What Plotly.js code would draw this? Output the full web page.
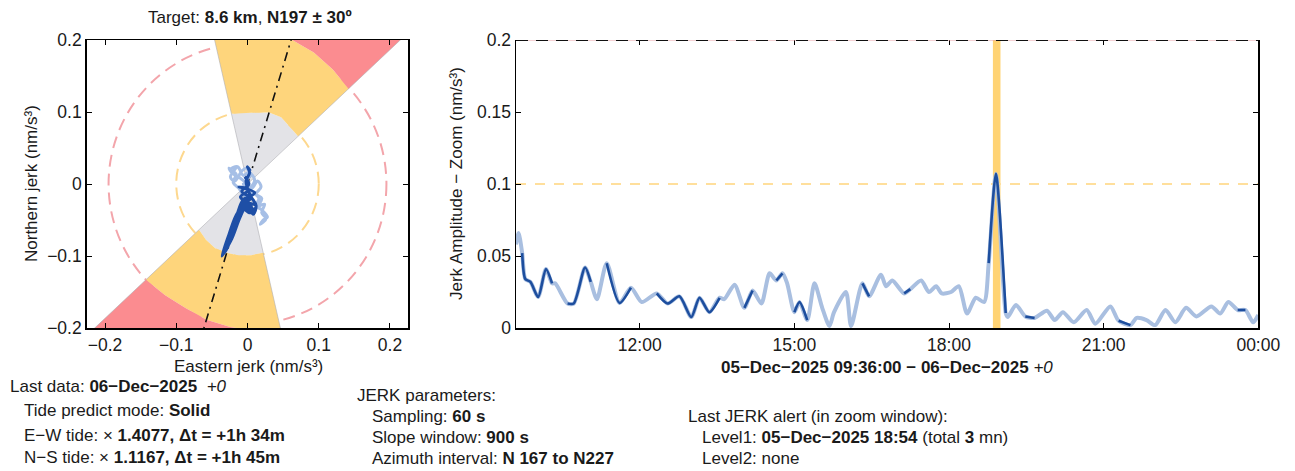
<!DOCTYPE html>
<html><head><meta charset="utf-8">
<script src="https://cdn.plot.ly/plotly-3.0.1.min.js"></script>
<style>html,body{margin:0;padding:0;background:#fff}#chart{width:1295px;height:471px}</style>
</head><body><div id="chart"></div>
<script>
// ---------------- data ----------------
const targetAzimuth = 197;
const wedgeAzimuthsUpper = [347, 357, 7, 17, 27, 37, 47];
const innerRadiusUpper   = [0.100, 0.099, 0.100, 0.104, 0.104, 0.099, 0.097];
const outerRadiusUpper   = [0.220, 0.220, 0.215, 0.210, 0.205, 0.199, 0.194];
const wedgeAzimuthsLower = [167, 177, 187, 197, 207, 217, 227];
const innerRadiusLower   = [0.098, 0.099, 0.100, 0.100, 0.100, 0.097, 0.093];
const outerRadiusLower   = [0.210, 0.205, 0.200, 0.197, 0.193, 0.193, 0.195];
const circleRadii = [0.1, 0.195];

const lightE = [0.000,-0.010,-0.020,-0.026,-0.022,-0.015,-0.024,-0.018,-0.008,-0.002,0.004,-0.004,0.006,0.014,0.019,0.012,0.020,0.016,0.024,0.020,0.026,0.018,0.022,0.028,0.020,0.012,0.016,0.006,-0.004,-0.012,-0.020,-0.016,-0.024,-0.014,-0.006,0.002,0.010,0.004,-0.006,0.000];
const lightN = [0.000,0.008,0.014,0.022,0.016,0.024,0.010,0.004,0.018,0.022,0.012,0.002,-0.006,0.004,-0.004,-0.014,-0.020,-0.030,-0.028,-0.040,-0.048,-0.056,-0.050,-0.046,-0.036,-0.030,-0.020,-0.012,-0.018,-0.006,0.002,0.014,0.020,0.024,0.012,0.016,0.006,-0.004,0.000,-0.010];
const darkE = [-0.004,0.002,-0.008,0.004,-0.006,0.008,0.000,-0.010,0.002,-0.012,0.010,-0.004,0.012,0.004,-0.008,0.006,-0.006,-0.016,-0.026,-0.033,-0.028,-0.018,-0.008,0.000,-0.012,-0.022,-0.032,-0.036,-0.026,-0.014,-0.002,0.008,0.012,0.004,-0.002,0.003,0.000,0.004];
const darkN = [0.010,0.000,-0.010,-0.020,-0.030,-0.036,-0.026,-0.018,-0.008,-0.004,-0.012,-0.024,-0.030,-0.040,-0.028,-0.016,-0.022,-0.046,-0.072,-0.096,-0.088,-0.060,-0.034,-0.022,-0.050,-0.076,-0.094,-0.100,-0.070,-0.040,-0.030,-0.042,-0.030,-0.016,0.004,0.016,0.024,0.018];

const timeHours = [9.60,9.65,9.72,9.78,9.88,10.03,10.18,10.30,10.36,10.60,10.72,10.94,11.05,11.17,11.36,11.61,11.83,12.04,12.33,12.54,12.77,13.00,13.16,13.35,13.55,13.64,13.84,14.03,14.19,14.36,14.52,14.65,14.77,14.86,15.00,15.10,15.25,15.39,15.54,15.68,15.77,16.00,16.10,16.32,16.45,16.68,16.78,16.90,17.13,17.25,17.46,17.61,17.75,17.86,18.04,18.19,18.35,18.52,18.68,18.77,18.91,19.10,19.14,19.30,19.48,19.66,19.90,20.05,20.21,20.42,20.67,20.84,21.13,21.29,21.52,21.64,21.83,22.00,22.20,22.39,22.60,22.80,23.09,23.26,23.42,23.60,23.75,23.90,24.00];
const jerkAmp = [0.058,0.066,0.052,0.034,0.032,0.0215,0.041,0.031,0.031,0.017,0.017,0.042,0.032,0.020,0.045,0.0174,0.028,0.018,0.024,0.017,0.022,0.0076,0.021,0.011,0.021,0.020,0.030,0.014,0.026,0.017,0.038,0.033,0.038,0.031,0.011,0.018,0.0055,0.031,0.014,0.0014,0.011,0.025,0.0014,0.031,0.022,0.037,0.029,0.033,0.024,0.027,0.033,0.025,0.029,0.024,0.025,0.029,0.010,0.021,0.018,0.045,0.107,0.0104,0.0076,0.016,0.008,0.007,0.012,0.0055,0.011,0.004,0.0125,0.003,0.015,0.005,0.002,0.007,0.0055,0.002,0.0125,0.004,0.014,0.008,0.015,0.010,0.018,0.0125,0.0125,0.004,0.009];
const inInterval = [0,0,1,1,1,1,1,1,0,1,1,1,1,0,1,1,1,0,1,1,1,1,1,1,1,0,0,1,1,0,0,1,1,0,1,1,1,0,0,0,0,0,0,1,1,0,0,0,1,1,0,0,0,0,0,0,0,0,0,1,1,1,0,0,1,1,0,1,0,1,0,1,0,1,1,0,0,1,0,1,0,0,1,0,0,1,1,0,0];

const alertLevels = [0.1, 0.2];
const alertStartHour = 18 + 54/60;
const alertDurationMin = 3;
const xTickHours = [12, 15, 18, 21, 24];
const xTickLabels = ['12:00','15:00','18:00','21:00','00:00'];
const windowStartHour = 9.6, windowEndHour = 24;
const polarTicks = [-0.2, -0.1, 0, 0.1, 0.2];
const ampTicks = [0, 0.05, 0.1, 0.15, 0.2];

// ---------------- helpers ----------------
const rad = d => d * Math.PI / 180;
const toDate = h => new Date(Date.UTC(2025, 11, 5) + Math.round(h * 3600000)).toISOString().slice(0, 19).replace('T', ' ');
function ring(az, rIn, rOut) {
  const x = [], y = [];
  az.forEach((a, i) => { const r = rIn[i]; x.push(r * Math.sin(rad(a))); y.push(r * Math.cos(rad(a))); });
  for (let i = az.length - 1; i >= 0; i--) { const r = rOut[i]; x.push(r * Math.sin(rad(az[i]))); y.push(r * Math.cos(rad(az[i]))); }
  return {x, y};
}
const FAR = az => az.map(() => 0.6);
const ZERO = az => az.map(() => 0);

const GRAY = '#e3e3e7', YEL = '#fed57c', RED = '#fb8c90';
const traces = [];
[[wedgeAzimuthsUpper, innerRadiusUpper, outerRadiusUpper], [wedgeAzimuthsLower, innerRadiusLower, outerRadiusLower]].forEach(([az, ri, ro]) => {
  [[ZERO(az), ri, GRAY], [ri, ro, YEL], [ro, FAR(az), RED]].forEach(([a, b, c]) => {
    const p = ring(az, a, b);
    traces.push({x: p.x, y: p.y, xaxis: 'x', yaxis: 'y', mode: 'lines', fill: 'toself', fillcolor: c, line: {width: 0}, hoverinfo: 'skip'});
  });
});
// wedge edges
[wedgeAzimuthsUpper[0], wedgeAzimuthsUpper[wedgeAzimuthsUpper.length - 1]].forEach(a => {
  traces.push({x: [-0.6 * Math.sin(rad(a)), 0.6 * Math.sin(rad(a))], y: [-0.6 * Math.cos(rad(a)), 0.6 * Math.cos(rad(a))], xaxis: 'x', yaxis: 'y', mode: 'lines', line: {color: 'rgba(175,175,180,0.6)', width: 1}, hoverinfo: 'skip'});
});
// target azimuth
traces.push({x: [-0.6 * Math.sin(rad(targetAzimuth)), 0.6 * Math.sin(rad(targetAzimuth))], y: [-0.6 * Math.cos(rad(targetAzimuth)), 0.6 * Math.cos(rad(targetAzimuth))], xaxis: 'x', yaxis: 'y', mode: 'lines', line: {color: '#111', width: 1.6, dash: '9px,5px,2px,5px'}, hoverinfo: 'skip'});
// trajectories
traces.push({x: lightE, y: lightN, xaxis: 'x', yaxis: 'y', mode: 'lines', line: {color: '#a6bfe6', width: 3, shape: 'spline'}});
traces.push({x: darkE, y: darkN, xaxis: 'x', yaxis: 'y', mode: 'lines', line: {color: '#1e4fa6', width: 3, shape: 'spline'}});

// time series
const tDates = timeHours.map(toDate);
traces.push({x: tDates, y: jerkAmp, xaxis: 'x2', yaxis: 'y2', mode: 'lines', line: {color: '#a9bfe0', width: 4, shape: 'spline', smoothing: 0.7}});
traces.push({x: tDates, y: jerkAmp.map((v, i) => inInterval[i] ? v : null), xaxis: 'x2', yaxis: 'y2', mode: 'lines', connectgaps: false, line: {color: '#1d4e9e', width: 2.6, shape: 'spline', smoothing: 0.7}});
traces.push({x: [toDate(windowStartHour)], y: [0], xaxis: 'x3', yaxis: 'y2', mode: 'markers', marker: {opacity: 0}, hoverinfo: 'skip'});

const shapes = [];
circleRadii.forEach((r, i) => shapes.push({type: 'circle', xref: 'x', yref: 'y', x0: -r, x1: r, y0: -r, y1: r, layer: 'below', line: {color: i ? '#f3a5ab' : '#fdd88f', width: 2, dash: '12px,7px'}}));
shapes.push({type: 'rect', xref: 'x2', yref: 'y2', x0: toDate(alertStartHour), x1: toDate(alertStartHour + alertDurationMin / 60), y0: 0, y1: alertLevels[1], layer: 'below', fillcolor: '#ffd374', line: {color: '#ffd374', width: 5}});
shapes.push({type: 'line', xref: 'x2', yref: 'y2', x0: toDate(windowStartHour), x1: toDate(windowEndHour), y0: alertLevels[0], y1: alertLevels[0], layer: 'below', line: {color: '#ffdf9c', width: 2, dash: '10px,9px'}});
shapes.push({type: 'line', xref: 'x2', yref: 'y2', x0: toDate(windowStartHour), x1: toDate(windowEndHour), y0: alertLevels[1], y1: alertLevels[1], layer: 'above', line: {color: '#e9a3aa', width: 1}});
shapes.push({type: 'line', xref: 'x2', yref: 'y2', x0: toDate(windowStartHour), x1: toDate(windowEndHour), y0: alertLevels[1], y1: alertLevels[1], layer: 'above', line: {color: '#111', width: 2, dash: '12px,8px'}});

const W = 1295, H = 471, FS = 17;
const ann = (text, px, py, o = {}) => Object.assign({text, x: px / W, y: 1 - py / H, xref: 'paper', yref: 'paper', showarrow: false, xanchor: 'left', yanchor: 'middle', font: {size: FS, color: '#1a1a1a'}}, o);
const annotations = [
  ann('Target: <b>8.6 km</b>, <b>N197 ± 30º</b>', 250, 18, {xanchor: 'center'}),
  ann('Northern jerk (nm/s³)', 31, 184, {xanchor: 'center', textangle: -90}),
  ann('Eastern jerk (nm/s³)', 248, 366, {xanchor: 'center'}),
  ann('Jerk Amplitude − Zoom (nm/s³)', 456, 184, {xanchor: 'center', textangle: -90}),
  ann('<b>05−Dec−2025 09:36:00 − 06−Dec−2025</b> <i>+0</i>', 887, 367, {xanchor: 'center'}),
  ann('Last data: <b>06−Dec−2025</b>  <i>+0</i>', 8, 386),
  ann('Tide predict mode: <b>Solid</b>', 22, 410),
  ann('E−W tide: × <b>1.4077, Δt = +1h 34m</b>', 22, 435),
  ann('N−S tide: × <b>1.1167, Δt = +1h 45m</b>', 22, 457),
  ann('JERK parameters:', 355, 395),
  ann('Sampling: <b>60 s</b>', 370, 416),
  ann('Slope window: <b>900 s</b>', 370, 437),
  ann('Azimuth interval: <b>N 167 to N227</b>', 370, 458),
  ann('Last JERK alert (in zoom window):', 686, 416),
  ann('Level1: <b>05−Dec−2025 18:54</b> (total <b>3</b> mn)', 700, 437),
  ann('Level2: none', 700, 458)
];

const axBase = {ticks: 'inside', ticklen: 5, tickwidth: 1, tickcolor: '#000', showline: true, linecolor: '#000', linewidth: 1.5, showgrid: false, zeroline: false, tickfont: {size: 17.5, color: '#1a1a1a'}, fixedrange: true};
const yDom = [1 - 328 / H, 1 - 40 / H];
const layout = {
  width: W, height: H, margin: {l: 0, r: 0, t: 0, b: 0}, paper_bgcolor: '#fff', plot_bgcolor: '#fff', showlegend: false,
  font: {family: '"Liberation Sans", Arial, sans-serif', size: FS, color: '#1a1a1a'},
  xaxis: Object.assign({}, axBase, {domain: [86.7 / W, 408.3 / W], range: [-0.2257, 0.2257], tickvals: polarTicks, mirror: 'ticks', anchor: 'y'}),
  yaxis: Object.assign({}, axBase, {domain: yDom, range: [-0.2, 0.2], tickvals: polarTicks, mirror: 'ticks', anchor: 'x'}),
  xaxis2: Object.assign({}, axBase, {domain: [516 / W, 1258.3 / W], type: 'date', range: [toDate(windowStartHour), toDate(windowEndHour)], tickvals: xTickHours.map(toDate), ticktext: xTickLabels, mirror: false, anchor: 'y2'}),
  xaxis3: Object.assign({}, axBase, {domain: [516 / W, 1258.3 / W], type: 'date', range: [toDate(windowStartHour), toDate(windowEndHour)], tickvals: xTickHours.map(toDate), showticklabels: false, showline: false, overlaying: 'x2', side: 'top', anchor: 'y2'}),
  yaxis2: Object.assign({}, axBase, {domain: yDom, range: [0, 0.2], tickvals: ampTicks, mirror: 'ticks', anchor: 'x2'}),
  shapes, annotations
};
Plotly.newPlot('chart', traces, layout, {staticPlot: true});
</script></body></html>
